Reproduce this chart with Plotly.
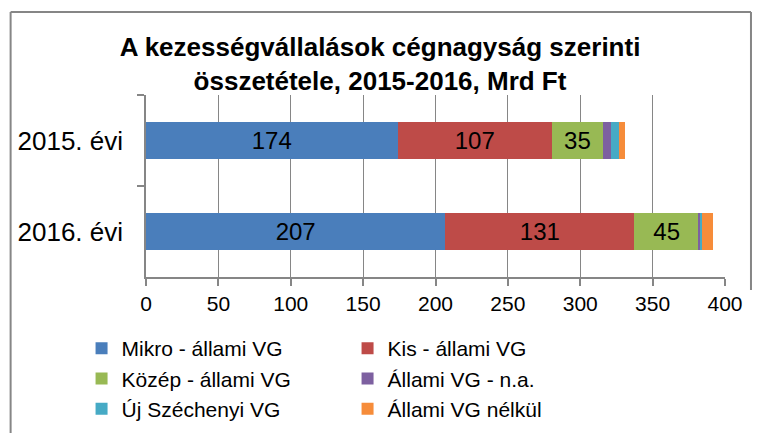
import plotly.graph_objects as go

categories = ["2015. évi", "2016. évi"]
series_names = ["Mikro - állami VG", "Kis - állami VG", "Közép - állami VG",
                "Állami VG - n.a.", "Új Széchenyi VG", "Állami VG nélkül"]
mikro = [173.8, 206.8]
kis = [106.6, 130.6]
kozep = [35.3, 44.6]
na = [5.5, 0.6]
uj_szechenyi = [5.6, 1.6]
nelkul = [4.1, 7.8]
show_labels = [True, True, True, False, False, False]
colors = ["#4A7EBB", "#BE4B48", "#98B954", "#7D60A0", "#46AAC5", "#F68C3A"]

FONT = "Liberation Sans"
OFF = 8  # page body margin
W, H = 762 - OFF, 433 - OFF
# plot area in screen pixels: x 145.5..725, y 95..277
L = 145.5 - OFF
R = W - (725 - OFF)
T = 95 - OFF
B = H - (277 - OFF)
PW, PH = W - L - R, H - T - B

def px(sx):
    return (sx - OFF - L) / PW

def py(sy):
    return (H - B - (sy - OFF)) / PH

fig = go.Figure()
for name, vals, col, lab in zip(series_names, [mikro, kis, kozep, na, uj_szechenyi, nelkul],
                                colors, show_labels):
    fig.add_trace(go.Bar(
        y=categories, x=vals, name=name, orientation="h",
        marker=dict(color=col, line=dict(width=0)),
        text=[f"{v:.0f}" for v in vals] if lab else None,
        textposition="inside" if lab else "none",
        insidetextanchor="middle",
        textfont=dict(family=FONT, size=24, color="black"),
        hoverinfo="x+name",
    ))

fig.update_layout(
    width=W, height=H,
    barmode="stack", bargap=0.6,
    margin=dict(l=L, r=R, t=T, b=B, autoexpand=False),
    paper_bgcolor="white", plot_bgcolor="white",
    font=dict(family=FONT, color="black"),
    title=dict(
        text="<b>A kezességvállalások cégnagyság szerinti<br>összetétele, 2015-2016, Mrd Ft</b>",
        x=(380 - OFF) / W, xref="container", xanchor="center",
        y=1 - (56 - OFF) / H, yref="container", yanchor="middle",
        font=dict(size=26, family=FONT, color="black"),
    ),
    xaxis=dict(
        range=[0, 400], dtick=50, tick0=0,
        showgrid=True, gridcolor="#868686", gridwidth=1,
        showline=True, linecolor="#868686", linewidth=1.5,
        ticks="outside", ticklen=7, tickcolor="#868686", tickwidth=1.5,
        tickfont=dict(size=21), zeroline=False,
    ),
    yaxis=dict(
        autorange="reversed", type="category",
        showline=True, linecolor="#868686", linewidth=1.5,
        ticks="outside", ticklen=7, tickcolor="#868686", tickwidth=1.5,
        tickson="boundaries", tickfont=dict(size=26), showgrid=False,
        ticklabelstandoff=16,
    ),
    legend=dict(
        orientation="h", x=px(81), xanchor="left", y=py(328), yanchor="top",
        entrywidth=221, entrywidthmode="pixels", itemwidth=30,
        font=dict(size=21, family=FONT), traceorder="normal", tracegroupgap=0,
        bgcolor="rgba(0,0,0,0)",
    ),
    showlegend=True,
)

border = dict(color="#868686", width=2)
fig.add_shape(type="line", xref="paper", yref="paper", x0=px(10), x1=px(10), y0=py(12), y1=py(440), line=border)
fig.add_shape(type="line", xref="paper", yref="paper", x0=px(10), x1=px(751), y0=py(12), y1=py(12), line=border)
fig.add_shape(type="line", xref="paper", yref="paper", x0=px(751), x1=px(751), y0=py(12), y1=py(290), line=border)

fig.write_html("out.html")
